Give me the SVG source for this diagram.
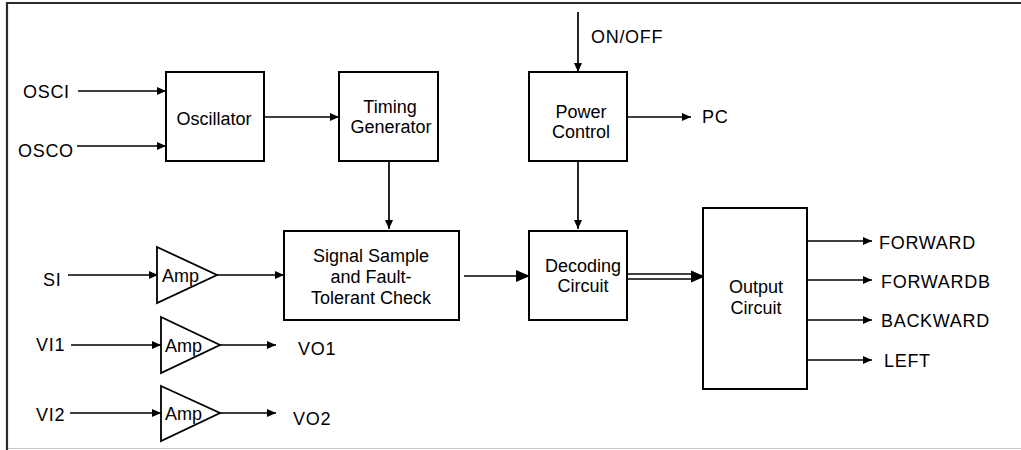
<svg xmlns="http://www.w3.org/2000/svg" width="1021" height="450" viewBox="0 0 1021 450">
<style>
  .box{fill:#fff;stroke:#000;stroke-width:2}
  .amp{fill:#fff;stroke:#000;stroke-width:1.8;stroke-linejoin:miter}
  .ln{fill:none;stroke:#000;stroke-width:1.7}
  .a{marker-end:url(#ah)}
  .A{marker-end:url(#AH)}
  text{font-family:"Liberation Sans",Arial,sans-serif;font-size:18px;fill:#000}
  .c{text-anchor:middle}
  .sp{letter-spacing:0.7px}
</style>
<defs>
  <marker id="ah" markerUnits="userSpaceOnUse" markerWidth="10" markerHeight="9" refX="9" refY="4" orient="auto">
    <path d="M0,0 L9,4 L0,8 z" fill="#000"/>
  </marker>
  <marker id="AH" markerUnits="userSpaceOnUse" markerWidth="15" markerHeight="13" refX="14" refY="6" orient="auto">
    <path d="M0,0 L14,6 L0,12 z" fill="#000"/>
  </marker>
</defs>
<rect width="1021" height="450" fill="#fff"/>
<g id="frame">
  <line x1="6" y1="3" x2="1021" y2="3" stroke="#2a2a2a" stroke-width="2.2"/>
  <line x1="7" y1="2" x2="7" y2="450" stroke="#2a2a2a" stroke-width="2.2"/>
  <line x1="8" y1="448.5" x2="1021" y2="448.5" stroke="#c8c8c8" stroke-width="1.2"/>
</g>
<g id="connectors">
  <line class="ln a" x1="78" y1="91" x2="166" y2="91"/>
  <line class="ln a" x1="77" y1="146" x2="166" y2="146"/>
  <line class="ln a" x1="264" y1="117" x2="339" y2="117"/>
  <line class="ln a" x1="578" y1="12" x2="578" y2="72"/>
  <line class="ln a" x1="627" y1="117" x2="691" y2="117"/>
  <line class="ln a" x1="389" y1="161" x2="389" y2="229"/>
  <line class="ln a" x1="578" y1="161" x2="578" y2="229"/>
  <line class="ln a" x1="68" y1="275" x2="158" y2="275"/>
  <line class="ln a" x1="217" y1="275" x2="284" y2="275"/>
  <line class="ln a" x1="71" y1="345" x2="161" y2="345"/>
  <line class="ln a" x1="220" y1="345" x2="276" y2="345"/>
  <line class="ln a" x1="70" y1="413" x2="161" y2="413"/>
  <line class="ln a" x1="220" y1="413" x2="276" y2="413"/>
  <line class="ln A" x1="464" y1="276" x2="530" y2="276"/>
  <line class="ln" x1="627" y1="274" x2="693" y2="274"/>
  <line class="ln" x1="627" y1="279" x2="693" y2="279"/>
  <path d="M691,270.5 L705,276.5 L691,282.5 z" fill="#000"/>
  <line class="ln a" x1="807" y1="241" x2="872" y2="241"/>
  <line class="ln a" x1="807" y1="280" x2="872" y2="280"/>
  <line class="ln a" x1="807" y1="320" x2="872" y2="320"/>
  <line class="ln a" x1="807" y1="360" x2="872" y2="360"/>
</g>
<g id="oscillator">
  <rect class="box" x="166" y="72" width="98" height="89"/>
  <text class="c" x="214" y="125">Oscillator</text>
</g>
<g id="timing-generator">
  <rect class="box" x="339" y="72" width="99" height="89"/>
  <text class="c" x="390" y="113">Timing</text>
  <text class="c" x="391" y="133">Generator</text>
</g>
<g id="power-control">
  <rect class="box" x="529" y="72" width="98" height="89"/>
  <text class="c" x="581" y="118">Power</text>
  <text class="c" x="581" y="138">Control</text>
</g>
<g id="signal-sample">
  <rect class="box" x="284" y="231" width="175" height="89"/>
  <text class="c" x="371" y="262">Signal Sample</text>
  <text class="c" x="371" y="283">and Fault-</text>
  <text class="c" x="371" y="304">Tolerant Check</text>
</g>
<g id="decoding-circuit">
  <rect class="box" x="529" y="231" width="98" height="89"/>
  <text class="c" x="583" y="272">Decoding</text>
  <text class="c" x="583" y="292">Circuit</text>
</g>
<g id="output-circuit">
  <rect class="box" x="703" y="208" width="104" height="181"/>
  <text class="c" x="756" y="293">Output</text>
  <text class="c" x="756" y="314">Circuit</text>
</g>
<g id="amp-si">
  <path class="amp" d="M157,247 L217,275 L157,303 z"/>
  <text x="162" y="282">Amp</text>
</g>
<g id="amp-vi1">
  <path class="amp" d="M161,317 L220,345 L161,373 z"/>
  <text x="165" y="352">Amp</text>
</g>
<g id="amp-vi2">
  <path class="amp" d="M161,386 L220,413 L161,441 z"/>
  <text x="165" y="420">Amp</text>
</g>
<g id="labels">
  <text class="sp" x="23" y="98">OSCI</text>
  <text class="sp" x="18" y="157">OSCO</text>
  <text class="sp" x="43" y="286">SI</text>
  <text class="sp" x="36" y="351">VI1</text>
  <text class="sp" x="36" y="421">VI2</text>
  <text class="sp" x="298" y="355">VO1</text>
  <text class="sp" x="293" y="425">VO2</text>
  <text class="sp" x="591" y="43">ON/OFF</text>
  <text class="sp" x="702" y="123">PC</text>
  <text class="sp" x="879" y="249">FORWARD</text>
  <text class="sp" x="881" y="288">FORWARDB</text>
  <text class="sp" x="881" y="327">BACKWARD</text>
  <text class="sp" x="884" y="367">LEFT</text>
</g>
</svg>
